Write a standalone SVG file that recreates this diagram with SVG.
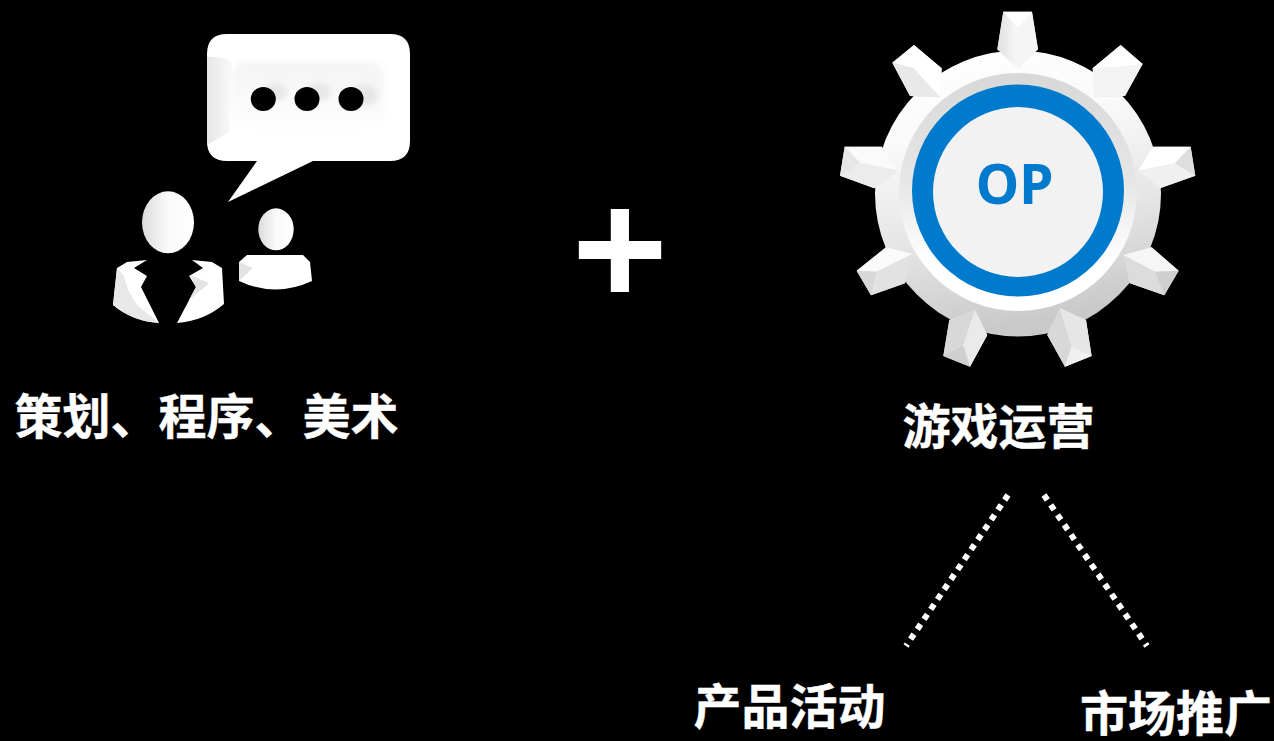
<svg xmlns="http://www.w3.org/2000/svg" width="1274" height="741" viewBox="0 0 1274 741">
<style>
.t{font-family:"Noto Sans CJK SC","Noto Sans",sans-serif;font-weight:700;fill:#fff;font-size:48px;stroke:#fff;stroke-width:.4}
.dot{fill:none;stroke:#fff;stroke-width:6;stroke-dasharray:6 6}
.under{fill:#e6e6e6}
</style>
<defs>
<filter id="b3" x="-20%" y="-20%" width="140%" height="140%"><feGaussianBlur stdDeviation="3"/></filter>
<linearGradient id="tl" x1="0" y1="0" x2="1" y2="0"><stop offset="0" stop-color="#e0e0e0"/><stop offset="1" stop-color="#f8f8f8"/></linearGradient>
<linearGradient id="body" x1="0.1" y1="0" x2="0.3" y2="1"><stop offset="0" stop-color="#fff"/><stop offset=".3" stop-color="#fafafa"/><stop offset=".65" stop-color="#e6e6e6"/><stop offset="1" stop-color="#c9c9c9"/></linearGradient>
<linearGradient id="ring" x1="0" y1="0" x2="0" y2="1"><stop offset="0" stop-color="#d8d8d8"/><stop offset=".45" stop-color="#e6e6e6"/><stop offset=".8" stop-color="#fff"/><stop offset="1" stop-color="#fff"/></linearGradient>
<linearGradient id="hd" x1="0" y1="0" x2="1" y2="0"><stop offset="0" stop-color="#dcdcdc"/><stop offset=".5" stop-color="#fafafa"/><stop offset="1" stop-color="#fff"/></linearGradient>
<linearGradient id="side" x1="0" y1="0" x2="1" y2="0"><stop offset="0" stop-color="#e6e6e6"/><stop offset="1" stop-color="#fafafa"/></linearGradient>
<linearGradient id="pan" x1="0" y1="0" x2="0" y2="1"><stop offset="0" stop-color="#f4f4f4"/><stop offset=".55" stop-color="#fafafa"/><stop offset="1" stop-color="#fff"/></linearGradient>
</defs>
<rect width="1274" height="741" fill="#000"/>
<g id="people">
<path fill="#fff" d="M227 34H390Q410 34 410 54V141Q410 161 390 161H313L228 202L257 161H227Q207 161 207 141V54Q207 34 227 34Z"/>
<path fill="url(#side)" d="M207 57Q220 56 232 62L230 132L207 145Z"/>
<rect x="231" y="62" width="154" height="72" rx="16" fill="url(#pan)" filter="url(#b3)"/>
<g filter="url(#b3)" fill="#e6e6e6"><ellipse cx="275" cy="92" rx="12" ry="9"/><ellipse cx="319" cy="92" rx="12" ry="9"/><ellipse cx="365" cy="95" rx="13" ry="11"/></g>
<ellipse cx="263.3" cy="99" rx="12.5" ry="12" fill="#000"/>
<ellipse cx="307" cy="99" rx="12.5" ry="12" fill="#000"/>
<ellipse cx="351" cy="99" rx="12.5" ry="12" fill="#000"/>
<ellipse cx="168" cy="222.3" rx="26" ry="31" fill="url(#hd)"/>
<ellipse cx="276" cy="229.3" rx="17.7" ry="21" fill="url(#hd)"/>
<path fill="#fff" d="M113 305L117 268L127 262L147 260L134 268L147 276L141 287L159 323Q132 321 113 305Z"/>
<path fill="#e8e8e8" d="M117 268L124 276L128 290L137 305L159 323Q132 321 113 305Z"/>
<path fill="#fff" d="M224 304L222 268L212 262L192 260L203 268L189 276L196 287L177 323Q204 321 224 304Z"/>
<path fill="#e4e4e4" d="M209 283L190 275L196 287L189 300L206 286Z"/>
<path fill="#fff" d="M239 262L247 255H303L310 262L312 281Q275 298 239 281Z"/>
<path fill="#e4e4e4" d="M239 262L253 268L239 281Z"/>
</g>
<g id="label-team"><text class="t" x="14.5" y="433.5">策划、程序、美术</text></g>
<g id="plus"><text x="620" y="305" text-anchor="middle" font-family="Liberation Sans" font-weight="700" font-size="164" fill="#fff">+</text></g>
<g id="gear">
<circle cx="1018" cy="193.5" r="143" fill="url(#body)"/>
<g transform="translate(830 0) scale(.3333)">
<path class="under" d="M520 35H606L624 148L564 205L502 148Z"/>
<path class="under" d="M187 188L252 135L335 205L330 292L240 288Z"/>
<path class="under" d="M872 135L938 192L885 288L795 292L788 205Z"/>
<path class="under" d="M925 512L968 440H1082L1096 527L990 565Z"/>
<path class="under" d="M155 440L205 512L133 565L30 527L44 440Z"/>
<path class="under" d="M880 765L965 742L1046 812L1003 886L900 850Z"/>
<path class="under" d="M248 762L225 850L123 886L80 812L168 742Z"/>
<path class="under" d="M435 930L472 1005L420 1100L340 1068L358 960Z"/>
<path class="under" d="M690 925L768 960L785 1068L705 1100L652 1005Z"/>
<path fill="url(#tl)" d="M520 35L564 85V205L502 148Z"/><path fill="#f5f5f5" d="M606 35L564 85V205L624 148Z"/><path fill="#fff" d="M520 35H606L564 85Z"/>
<path fill="#fff" d="M187 188L252 135L335 205L330 292L250 205Z"/><path fill="#e9e9e9" d="M187 188L250 205L330 292L240 288Z"/>
<path fill="#fff" d="M788 205L872 135L938 192L875 200Z"/><path fill="#f3f3f3" d="M788 205L875 200L938 192L885 288L795 292Z"/>
<path fill="#fff" d="M925 512L968 440H1082L1035 490Z"/><path fill="#f0f0f0" d="M925 512L1035 490L1096 527L990 565Z"/><path fill="#dedede" d="M1082 440L1096 527L1035 490Z"/>
<path fill="#fafafa" d="M44 440H155L205 512L90 488Z"/><path fill="#ececec" d="M30 527L90 488L205 512L133 565Z"/><path fill="#e6e6e6" d="M44 440L90 488L30 527Z"/>
<path fill="#f6f6f6" d="M880 765L965 742L1046 812L975 815Z"/><path fill="#dcdcdc" d="M880 765L975 815L1003 886L900 850Z"/><path fill="#cfcfcf" d="M975 815L1046 812L1003 886Z"/>
<path fill="#fafafa" d="M168 742L248 762L140 815L80 812Z"/><path fill="#e2e2e2" d="M248 762L225 850L123 886L140 815Z"/><path fill="#d8d8d8" d="M80 812L140 815L123 886Z"/>
<path fill="#d8d8d8" d="M358 960L435 930L400 1035L340 1068Z"/><path fill="#eaeaea" d="M435 930L472 1005L420 1100L400 1035Z"/><path fill="#cfcfcf" d="M340 1068L400 1035L420 1100Z"/>
<path fill="#d8d8d8" d="M652 1005L690 925L725 1040L705 1100Z"/><path fill="#e6e6e6" d="M690 925L768 960L785 1068L725 1040Z"/><path fill="#f0f0f0" d="M725 1040L785 1068L705 1100Z"/>
</g>
<circle cx="1018" cy="192" r="119" fill="url(#ring)"/>
<circle cx="1018" cy="190.5" r="106" fill="#007acc"/>
<circle cx="1018" cy="192" r="85" fill="#f2f2f2"/>
<text x="1014.5" y="204" text-anchor="middle" font-family="Noto Sans" font-weight="700" font-size="55" fill="#007acc">OP</text>
</g>
<g id="label-op"><text class="t" x="902.5" y="444">游戏运营</text></g>
<g id="connectors">
<path class="dot" d="M1008 495L906 646"/>
<path class="dot" d="M1044 495L1147 646"/>
</g>
<g id="label-activity"><text class="t" x="693.5" y="724">产品活动</text></g>
<g id="label-market"><text class="t" x="1080" y="731">市场推广</text></g>
</svg>
